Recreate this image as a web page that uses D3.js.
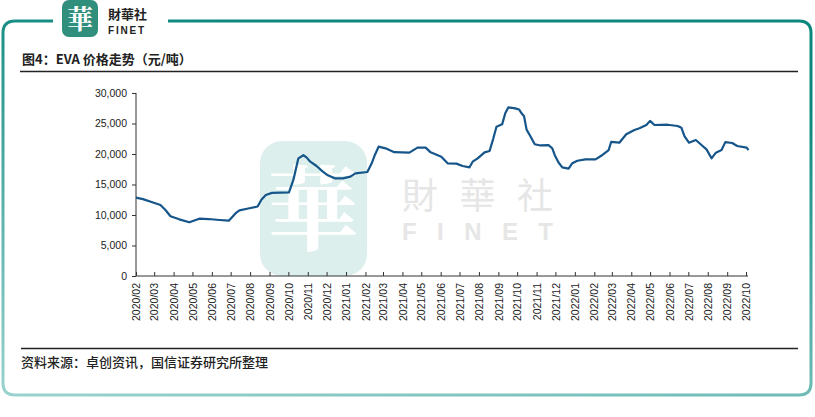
<!DOCTYPE html>
<html><head><meta charset="utf-8">
<script src="https://cdn.jsdelivr.net/npm/d3@7"></script>
<style>
html,body{margin:0;padding:0;background:#fff;}
svg{display:block;}
</style></head>
<body>
<svg id="chart" width="815" height="417"></svg>
<script>
// ---- data ----
const dates = ["2020-02-01","2020-02-12","2020-02-27","2020-03-11","2020-03-19","2020-03-27","2020-04-10","2020-04-26","2020-05-12","2020-05-27","2020-06-13","2020-06-28","2020-07-09","2020-07-15","2020-07-31","2020-08-13","2020-08-19","2020-08-26","2020-09-05","2020-10-02","2020-10-09","2020-10-17","2020-10-25","2020-10-30","2020-11-05","2020-11-15","2020-11-24","2020-12-03","2020-12-14","2020-12-27","2021-01-08","2021-01-16","2021-02-04","2021-02-11","2021-02-16","2021-02-22","2021-03-05","2021-03-19","2021-04-12","2021-04-25","2021-05-08","2021-05-16","2021-06-02","2021-06-12","2021-06-26","2021-07-06","2021-07-17","2021-07-22","2021-07-30","2021-08-10","2021-08-18","2021-08-24","2021-08-29","2021-09-07","2021-09-12","2021-09-17","2021-09-28","2021-10-04","2021-10-08","2021-10-12","2021-10-16","2021-10-21","2021-10-29","2021-11-07","2021-11-20","2021-11-26","2021-11-30","2021-12-06","2021-12-12","2021-12-22","2021-12-28","2022-01-05","2022-01-18","2022-02-03","2022-02-14","2022-02-24","2022-02-28","2022-03-13","2022-03-24","2022-04-06","2022-04-14","2022-04-25","2022-05-01","2022-05-08","2022-05-29","2022-06-14","2022-06-20","2022-06-25","2022-07-02","2022-07-13","2022-07-22","2022-07-30","2022-08-07","2022-08-14","2022-08-23","2022-08-29","2022-09-09","2022-09-17","2022-10-02","2022-10-05"];
const prices = [12840,12600,12080,11640,10820,9800,9290,8800,9400,9340,9180,9070,10300,10750,11100,11400,12500,13280,13620,13700,15740,19290,19800,19450,18740,18030,17200,16500,16010,16010,16280,16830,17050,18470,19840,21200,20930,20300,20220,21040,21040,20270,19560,18470,18420,18030,17820,18740,19290,20270,20490,22570,24480,24860,26670,27650,27480,27300,26670,26200,24000,23110,21600,21400,21470,20930,19800,18600,17800,17600,18500,18900,19130,19130,19840,20650,22000,21850,23230,23930,24210,24750,25430,24750,24800,24590,24300,22900,21850,22290,21470,20760,19290,20220,20650,21950,21800,21310,21050,20650];
const yTicks = [0,5000,10000,15000,20000,25000,30000];
const xStart = "2020-02-01", xEnd = "2022-10-01";
const titleText = "图4：EVA 价格走势（元/吨）";
const sourceText = "资料来源：卓创资讯，国信证券研究所整理";

// ---- drawing ----
const svg = d3.select("#chart");
const parse = d3.timeParse("%Y-%m-%d");
const data = dates.map((d,i)=>({date:parse(d), v:prices[i]}));

const defs = svg.append("defs");
const grad = defs.append("linearGradient").attr("id","bord").attr("x1","0").attr("y1","1").attr("x2","0.35").attr("y2","0");
grad.append("stop").attr("offset","0%").attr("stop-color","#9ad3ce");
grad.append("stop").attr("offset","100%").attr("stop-color","#0b877d");

// frame
const L=3, R=811, T=21, B=395, r=12;
svg.append("path")
  .attr("d", `M53,${T} L${L+r},${T} Q${L},${T} ${L},${T+r} L${L},${B-r} Q${L},${B} ${L+r},${B} L${R-r},${B} Q${R},${B} ${R},${B-r} L${R},${T+r} Q${R},${T} ${R-r},${T} L168,${T}`)
  .attr("fill","none").attr("stroke","url(#bord)").attr("stroke-width",3);

// top logo
svg.append("rect").attr("x",62).attr("y",0).attr("width",36).attr("height",37).attr("rx",7).attr("fill","#2f8f7c");
svg.append("text").attr("x",80).attr("y",29).attr("text-anchor","middle")
  .attr("font-family","Noto Serif CJK SC, Noto Sans CJK TC, serif").attr("font-size",26).attr("font-weight","bold").attr("fill","#fff").text("華");
svg.append("text").attr("x",108).attr("y",19).attr("font-family","Noto Sans CJK TC").attr("font-weight","bold").attr("font-size",13).attr("fill","#222").text("財華社");
svg.append("text").attr("x",108).attr("y",34).attr("font-family","Liberation Sans, Arial").attr("font-weight","bold").attr("font-size",10).attr("letter-spacing","1.8").attr("fill","#222").text("FINET");

// title + rules
svg.append("text").attr("x",22).attr("y",64).attr("font-family","Noto Sans CJK SC").attr("font-weight","bold").attr("font-size",13).attr("fill","#222").text(titleText);
svg.append("line").attr("x1",20).attr("x2",798).attr("y1",71.5).attr("y2",71.5).attr("stroke","#222").attr("stroke-width",1.3);
svg.append("line").attr("x1",21).attr("x2",798).attr("y1",348.5).attr("y2",348.5).attr("stroke","#222").attr("stroke-width",1.3);
svg.append("text").attr("x",21).attr("y",367).attr("font-family","Noto Sans CJK SC").attr("font-weight","500").attr("font-size",13).attr("fill","#222").text(sourceText);

// watermark
const wm = svg.append("g");
wm.append("rect").attr("x",260).attr("y",141).attr("width",107).attr("height",135).attr("rx",22).attr("fill","#dcefed");
wm.append("text").attr("x",313).attr("y",243).attr("text-anchor","middle").attr("font-family","Noto Serif CJK SC, Noto Sans CJK TC, serif").attr("font-weight","bold").attr("font-size",92).attr("fill","#fff").text("華");
wm.append("text").attr("x",402).attr("y",209).attr("textLength",151).attr("font-family","Noto Sans CJK TC").attr("font-size",36).attr("fill","#e6e6e6").text("財華社");
wm.append("text").attr("x",402).attr("y",240).attr("textLength",151).attr("font-family","Liberation Sans, Arial").attr("font-weight","bold").attr("font-size",24).attr("fill","#e6e6e6").text("FINET");

// scales
const x = d3.scaleTime().domain([parse(xStart), parse(xEnd)]).range([136,746]);
const y = d3.scaleLinear().domain([0,30000]).range([276,93]);

// y axis
const ya = svg.append("g").attr("transform","translate(136,0)")
  .call(d3.axisLeft(y).tickValues(yTicks).tickFormat(d3.format(",")).tickSize(4).tickPadding(5));
ya.select(".domain").attr("stroke","#333").attr("d","M0,93V276");
ya.selectAll("line").attr("stroke","#333");
ya.selectAll("text").attr("font-family","Liberation Sans, Arial").attr("font-size",10.5).attr("fill","#222");

// x axis
const xa = svg.append("g").attr("transform","translate(0,276)")
  .call(d3.axisBottom(x).ticks(d3.timeMonth.every(1)).tickFormat(d3.timeFormat("%Y/%m")).tickSizeInner(-4).tickSizeOuter(0).tickPadding(7));
xa.select(".domain").attr("stroke","#333").attr("d","M136,0H748");
xa.selectAll("line").attr("stroke","#333");
xa.selectAll("text").attr("font-family","Liberation Sans, Arial").attr("font-size",10.5).attr("fill","#222")
  .attr("transform","rotate(-90)").attr("text-anchor","end").attr("x",-7).attr("y",0).attr("dy","0.35em");

// line
svg.append("path").datum(data)
  .attr("d", d3.line().x(d=>x(d.date)).y(d=>y(d.v)))
  .attr("fill","none").attr("stroke","#15558a").attr("stroke-width",2.2).attr("stroke-linejoin","round");
</script>
</body></html>
